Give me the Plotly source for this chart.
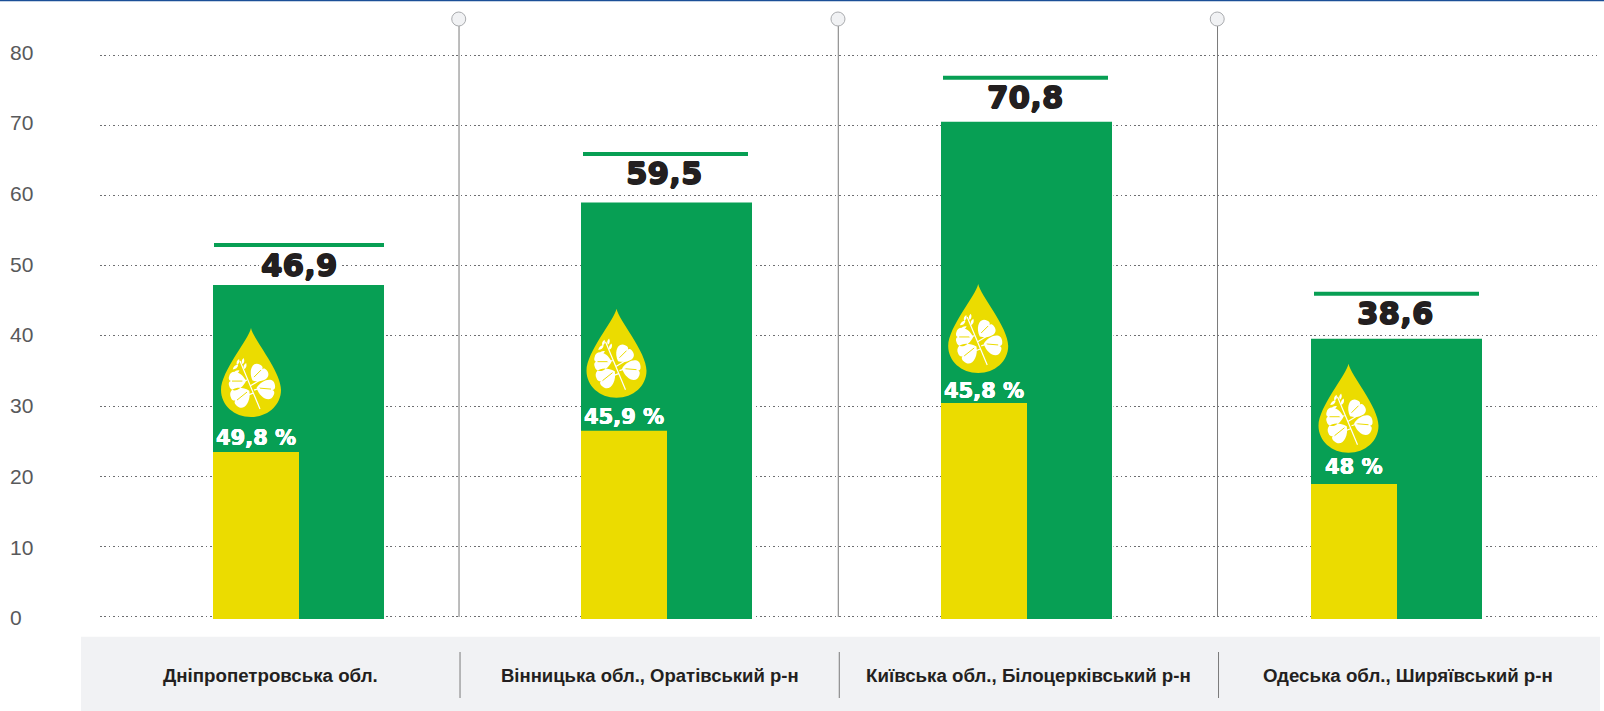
import math
import plotly.graph_objects as go

# ---------- data ----------
categories = ["Дніпропетровська обл.", "Вінницька обл., Оратівський р-н",
              "Київська обл., Білоцерківський р-н", "Одеська обл., Ширяївський р-н"]
yield_labels = ["46,9", "59,5", "70,8", "38,6"]
oil_labels = ["49,8 %", "45,9 %", "45,8 %", "48 %"]
yield_bar_values = [47.25, 59.0, 70.5, 39.6]
oil_bar_values = [23.45, 26.5, 30.45, 18.9]
tick_values = [0, 10, 20, 30, 40, 50, 60, 70, 80]

# ---------- layout constants (pixels of the 1604x711 page) ----------
W, H = 1604, 711
PLOT_L, PLOT_R = 100, 1597
Y0_PX, PX_PER_UNIT = 616.7, 7.02
CAT0_PX, CAT_PX = 269.4, 379.25
BAR_BASE = -0.33


def xv(px):
    return (px - CAT0_PX) / CAT_PX


def yv(py):
    return (Y0_PX - py) / PX_PER_UNIT


green_left = [213, 581, 941, 1311]
BAR_W, OIL_W = 171, 86
cap_left = [214, 583, 943, 1314]
cap_w = [170, 165, 165, 165]
cap_lift = [40, 48.6, 44, 45]
label_cx = [299, 664.7, 1025.7, 1395.7]
label_lift = [20, 30, 24.5, 25.5]
oil_lift = [14, 14, 12, 17]
drop_cx = [251, 616.5, 978.2, 1348.5]
drop_lift = [35, 33, 30, 31.3]
cat_font = [18.7, 18.5, 18.7, 18.7]

GREEN, YELLOW, WHITE = "#079f54", "#ebdc00", "#ffffff"
TEXT = "#231f20"
GRID = "#6d6e71"
DIV = "#7a7a7a"


def heavy(color, a=0.6):
    return f"{a}px 0 0 {color}, -{a}px 0 0 {color}, 0 {a}px 0 {color}, 0 -{a}px 0 {color}"


fig = go.Figure()
idx = list(range(4))
fig.add_bar(x=categories, y=[v - BAR_BASE for v in yield_bar_values], base=BAR_BASE,
            width=[BAR_W / CAT_PX] * 4,
            offset=[xv(l) - i for i, l in zip(idx, green_left)],
            marker=dict(color=GREEN, line=dict(width=0)), showlegend=False)
fig.add_bar(x=categories, y=[v - BAR_BASE for v in oil_bar_values], base=BAR_BASE,
            width=[OIL_W / CAT_PX] * 4,
            offset=[xv(l) - i for i, l in zip(idx, green_left)],
            marker=dict(color=YELLOW, line=dict(width=0)), showlegend=False)

shapes, annos = [], []


def xp(px):
    return (px - PLOT_L) / (PLOT_R - PLOT_L)


# grey band and page rule
shapes.append(dict(type="rect", xref="paper", yref="y", x0=xp(81), x1=xp(1600), y0=yv(636.7), y1=yv(711),
                   fillcolor="#f1f2f4", line_width=0, layer="below"))
shapes.append(dict(type="line", xref="paper", yref="y", x0=xp(0), x1=xp(1604), y0=yv(0.5), y1=yv(0.5),
                   line=dict(color="#1b4f97", width=1.5)))

# dividers
for m in (0.5, 1.5, 2.5):
    shapes.append(dict(type="line", xref="x", yref="y", x0=m, x1=m, y0=yv(26), y1=yv(617),
                       line=dict(color=DIV, width=1)))
    shapes.append(dict(type="line", xref="x", yref="y", x0=m + 1 / CAT_PX, x1=m + 1 / CAT_PX,
                       y0=yv(652), y1=yv(698), line=dict(color=DIV, width=1)))
    shapes.append(dict(type="circle", xref="x", yref="y", xsizemode="pixel", ysizemode="pixel",
                       xanchor=m - 0.3 / CAT_PX, yanchor=yv(19), x0=-7, x1=7, y0=-7, y1=7,
                       fillcolor="#f1f2f4", line=dict(color="#a9abae", width=1)))


# drop icon (pixel-sized path, y up)
def pt(u, v, ox, oy, ang):
    c, s = math.cos(ang), math.sin(ang)
    return ox + u * c - v * s, oy + u * s + v * c


def leaf(ox, oy, r, deg):
    a = math.radians(deg)
    seq = [(-r, 0), (-.5 * r, 1.1 * r), (.8 * r, 1.55 * r), (r, .5 * r), (1.1 * r, .15 * r), (.9 * r, 0), (.75 * r, 0),
           (.9 * r, 0), (1.1 * r, -.15 * r), (r, -.5 * r), (.8 * r, -1.55 * r), (-.5 * r, -1.1 * r), (-r, 0)]
    p = [pt(u, v, ox, oy, a) for u, v in seq]
    d = f"M{p[0][0]:.2f},{p[0][1]:.2f}"
    for i in range(1, len(p), 3):
        d += " C" + " ".join(f"{q[0]:.2f},{q[1]:.2f}" for q in p[i:i + 3])
    return d + " Z"


def grain(ox, oy, r, deg):
    a = math.radians(deg)
    p = [pt(u, v, ox, oy, a) for u, v in [(-r, 0), (0, .8 * r), (r, 0), (0, -.8 * r)]]
    return (f"M{p[0][0]:.2f},{p[0][1]:.2f} Q{p[1][0]:.2f},{p[1][1]:.2f} {p[2][0]:.2f},{p[2][1]:.2f} "
            f"Q{p[3][0]:.2f},{p[3][1]:.2f} {p[0][0]:.2f},{p[0][1]:.2f} Z")


DROP = "M0,89 C2,78 30,46 30,27 C30,12 17,0 0,0 C-17,0 -30,12 -30,27 C-30,46 -2,78 0,89 Z"
LEAVES = " ".join([leaf(7, 43, 8.5, 50), leaf(14.5, 28, 9, -8), leaf(-13.5, 36, 8.5, 180), leaf(-9.5, 21, 9.5, 215)])
GRAINS = " ".join([grain(-13, 55, 3.2, 70), grain(-8, 56, 3.2, 80), grain(-15.5, 50, 3.6, 40), grain(-6, 51, 3.4, 70),
                   grain(-14.5, 45, 3.4, 30)])
STEM = "M-11,56 L9,8 M-1,31 L9,37 M2,24 L-8,20 M-4,37 L-9,36 M3,27 L9,29"
VEINS = " ".join(["M3,40 L10,47", "M8,29 L20,28", "M-8,36 L-19,36", "M-4,25 L-14,17"])

icon_common = dict(xref="x", yref="y", xsizemode="pixel", ysizemode="pixel", type="path")
for i in idx:
    ay = oil_bar_values[i] + drop_lift[i] / PX_PER_UNIT
    ax = xv(drop_cx[i])
    shapes.append(dict(path=DROP, xanchor=ax, yanchor=ay, fillcolor=YELLOW, line_width=0, **icon_common))
    shapes.append(dict(path=LEAVES, xanchor=ax, yanchor=ay, fillcolor=WHITE, line_width=0, **icon_common))
    shapes.append(dict(path=GRAINS, xanchor=ax, yanchor=ay, fillcolor=WHITE, line_width=0, **icon_common))
    shapes.append(dict(path=VEINS, xanchor=ax, yanchor=ay, line=dict(color=YELLOW, width=1), **icon_common))
    shapes.append(dict(path=STEM, xanchor=ax, yanchor=ay, line=dict(color=WHITE, width=1.2), **icon_common))

    # white sliver where the grid stops right of each bar
    bar_right = green_left[i] + BAR_W
    shapes.append(dict(type="rect", xref="x", yref="y", x0=xv(bar_right), x1=xv(bar_right + 1.5),
                       y0=BAR_BASE, y1=yield_bar_values[i], fillcolor=WHITE, line_width=0))

    # green cap line
    cy = yield_bar_values[i] + cap_lift[i] / PX_PER_UNIT
    shapes.append(dict(type="rect", xref="x", yref="y", x0=xv(cap_left[i]), x1=xv(cap_left[i] + cap_w[i]),
                       y0=cy - 2 / PX_PER_UNIT, y1=cy + 2 / PX_PER_UNIT, fillcolor=GREEN, line_width=0))

    # yield value, on a white patch that interrupts the grid
    ly = yield_bar_values[i] + label_lift[i] / PX_PER_UNIT
    shapes.append(dict(type="rect", xref="x", yref="y", x0=xv(label_cx[i] - 40), x1=xv(label_cx[i] + 40),
                       y0=ly - 14 / PX_PER_UNIT, y1=ly + 14 / PX_PER_UNIT, fillcolor=WHITE, line_width=0))
    annos.append(dict(x=xv(label_cx[i]), y=ly, xref="x", yref="y",
                      text=yield_labels[i], showarrow=False, xanchor="center", yanchor="middle", borderpad=0,
                      font=dict(family="DejaVu Sans", size=31, color=TEXT, weight="bold", shadow=heavy(TEXT, 0.7))))
    # oil share
    annos.append(dict(x=xv(green_left[i] + OIL_W / 2), y=oil_bar_values[i] + oil_lift[i] / PX_PER_UNIT,
                      xref="x", yref="y", text=oil_labels[i], showarrow=False, xanchor="center", yanchor="middle",
                      font=dict(family="DejaVu Sans", size=21, color=WHITE, weight="bold", shadow=heavy(WHITE, 0.35))))
    # category band label
    annos.append(dict(x=i, y=yv(675), xref="x", yref="y", text=categories[i], showarrow=False,
                      xanchor="center", yanchor="middle", xshift=1,
                      font=dict(family="Liberation Sans", size=cat_font[i], color=TEXT, weight="bold")))

for t in tick_values:
    annos.append(dict(x=xp(8), y=t, xref="paper", yref="y", text=str(t), yshift=-1 + 4 * t / 80,
                      showarrow=False, xanchor="left", yanchor="middle",
                      font=dict(family="Liberation Sans", size=21, color="#58595b")))

fig.update_layout(
    width=W, height=H, margin=dict(l=PLOT_L, r=W - PLOT_R, t=0, b=0),
    paper_bgcolor=WHITE, plot_bgcolor=WHITE, barmode="overlay", showlegend=False,
    shapes=shapes, annotations=annos,
    xaxis=dict(type="category", categoryorder="array", categoryarray=categories,
               range=[xv(PLOT_L), xv(PLOT_R)], showgrid=False, showticklabels=False, zeroline=False, ticks=""),
    yaxis=dict(range=[yv(H), yv(0)], tickvals=tick_values, showticklabels=False, zeroline=False, ticks="",
               showgrid=True, gridcolor=GRID, gridwidth=1, griddash="1.5px,2.9px"),
)
fig.write_html("out.html", config=dict(displayModeBar=False),
               post_script="document.body.style.margin='0';document.body.style.overflow='hidden';")
